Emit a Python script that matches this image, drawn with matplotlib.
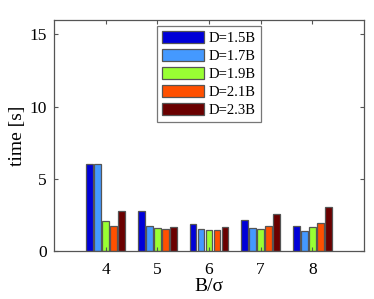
import matplotlib
matplotlib.use("Agg")
import matplotlib.pyplot as plt
import numpy as np

categories = [4, 5, 6, 7, 8]
series_labels = ["D=1.5B", "D=1.7B", "D=1.9B", "D=2.1B", "D=2.3B"]
d15 = [6.05, 2.74, 1.88, 2.12, 1.70]
d17 = [6.05, 1.72, 1.52, 1.59, 1.40]
d19 = [2.05, 1.60, 1.43, 1.54, 1.66]
d21 = [1.70, 1.49, 1.43, 1.72, 1.95]
d23 = [2.76, 1.63, 1.66, 2.57, 3.08]
series = [d15, d17, d19, d21, d23]
colors = ["#0000d8", "#4499ff", "#99ff33", "#ff5000", "#6a0000"]

plt.rcParams['font.family'] = ['Liberation Serif', 'DejaVu Serif']

fig = plt.figure(figsize=(3.74, 2.99), dpi=100)
ax = fig.add_axes([54/374, 1-251/299, (364-54)/374, (251-20)/299])

x = np.array(categories, dtype=float)
n = len(series)
step = 0.154
width = 0.13
for i, (vals, c, lab) in enumerate(zip(series, colors, series_labels)):
    off = (i - (n - 1) / 2) * step
    ax.bar(x + off, vals, width=width, color=c, edgecolor="#555555",
           linewidth=0.9, label=lab)

ax.set_xlim(3, 9)
ax.set_ylim(0, 16)
ax.set_xticks(categories)
ax.set_xticklabels([str(c) for c in categories])
ax.set_yticks([0, 5, 10, 15])
ax.tick_params(direction='in', top=True, right=True, labelsize=12.5,
               length=3, color="#555555", width=0.8)
ax.tick_params(axis='x', pad=8)
ax.tick_params(axis='y', pad=5)
for s in ax.spines.values():
    s.set_color("#555555")
    s.set_linewidth(0.9)
ax.set_xlabel("B/σ", fontsize=14, labelpad=0)
ax.set_ylabel("time [s]", fontsize=14, labelpad=3)

leg = ax.legend(loc='upper center', bbox_to_anchor=(0.5, 0.975), fontsize=10.5,
                frameon=True, fancybox=False, handlelength=2.9, handleheight=0.9,
                labelspacing=0.27, borderpad=0.35, handletextpad=0.3,
                borderaxespad=0.0)
leg.get_frame().set_edgecolor("#555555")
leg.get_frame().set_linewidth(0.9)

fig.savefig("out.png", dpi=100)
